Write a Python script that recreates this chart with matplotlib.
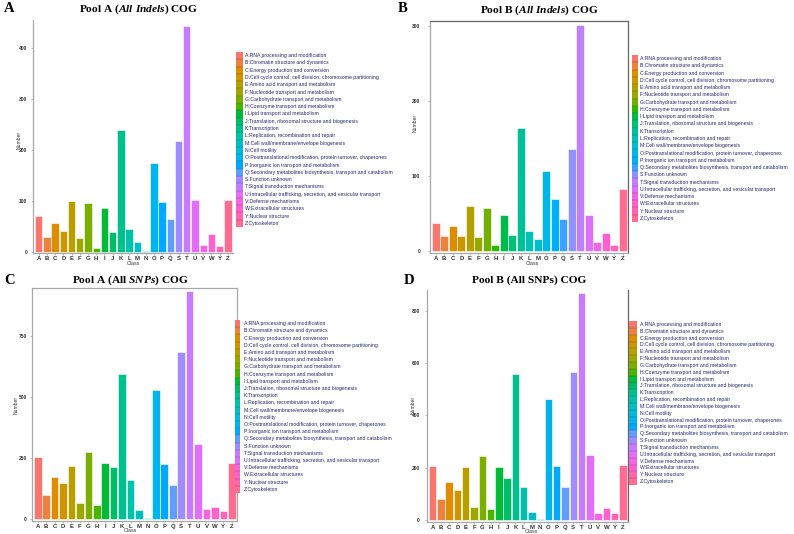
import numpy as np
import matplotlib
matplotlib.use("Agg")
import matplotlib.pyplot as plt
import matplotlib.transforms as mtransforms

# ---------------- data ----------------
classes_full = ["A", "B", "C", "D", "E", "F", "G", "H", "I", "J", "K", "L", "M",
                "N", "O", "P", "Q", "S", "T", "U", "V", "W", "Y", "Z"]
classes_b = ["A", "B", "C", "D", "E", "F", "G", "H", "I", "J", "K", "L", "M",
             "O", "P", "Q", "S", "T", "U", "V", "W", "Y", "Z"]

desc = {
    "A": "RNA processing and modification",
    "B": "Chromatin structure and dynamics",
    "C": "Energy production and conversion",
    "D": "Cell cycle control, cell division, chromosome partitioning",
    "E": "Amino acid transport and metabolism",
    "F": "Nucleotide transport and metabolism",
    "G": "Carbohydrate transport and metabolism",
    "H": "Coenzyme transport and metabolism",
    "I": "Lipid transport and metabolism",
    "J": "Translation, ribosomal structure and biogenesis",
    "K": "Transcription",
    "L": "Replication, recombination and repair",
    "M": "Cell wall/membrane/envelope biogenesis",
    "N": "Cell motility",
    "O": "Posttranslational modification, protein turnover, chaperones",
    "P": "Inorganic ion transport and metabolism",
    "Q": "Secondary metabolites biosynthesis, transport and catabolism",
    "S": "Function unknown",
    "T": "Signal transduction mechanisms",
    "U": "Intracellular trafficking, secretion, and vesicular transport",
    "V": "Defense mechanisms",
    "W": "Extracellular structures",
    "Y": "Nuclear structure",
    "Z": "Cytoskeleton",
}

pool_a_indels = [70, 28, 57, 40, 100, 26, 95, 8, 85, 38, 239, 44, 20,
                 1, 173, 98, 65, 216, 443, 101, 14, 35, 12, 102]
pool_b_indels = [37, 19, 33, 19, 59, 18, 57, 7, 47, 21, 163, 26, 15,
                 106, 69, 42, 136, 301, 47, 11, 24, 7, 82]
pool_a_snps = [254, 100, 173, 149, 219, 68, 275, 59, 231, 214, 595, 160, 38,
               7, 530, 227, 141, 684, 936, 310, 44, 52, 34, 231]
pool_b_snps = [206, 82, 147, 116, 201, 51, 243, 44, 201, 162, 558, 128, 32,
               3, 463, 206, 127, 567, 868, 248, 28, 47, 28, 211]

ticks_a = [0, 100, 200, 300, 400]
ticks_b = [0, 100, 200, 300]
ticks_c = [0, 250, 500, 750]
ticks_d = [0, 200, 400, 600, 800]

# ---------------- helpers ----------------
def hue_pal(n, c=100.0, l=65.0):
    hues = np.linspace(15, 375, n + 1)[:-1]
    Xn, Yn, Zn = 95.047, 100.0, 108.883
    un = 4 * Xn / (Xn + 15 * Yn + 3 * Zn)
    vn = 9 * Yn / (Xn + 15 * Yn + 3 * Zn)
    out = []
    for h in hues:
        U = c * np.cos(np.radians(h))
        V = c * np.sin(np.radians(h))
        Y = Yn * ((l + 16) / 116) ** 3
        up = U / (13 * l) + un
        vp = V / (13 * l) + vn
        X = Y * 9 * up / (4 * vp)
        Z = Y * (12 - 3 * up - 20 * vp) / (4 * vp)
        X, Y2, Z = X / 100, Y / 100, Z / 100
        r = 3.2404542 * X - 1.5371385 * Y2 - 0.4985314 * Z
        g = -0.9692660 * X + 1.8760108 * Y2 + 0.0415560 * Z
        b = 0.0556434 * X - 0.2040259 * Y2 + 1.0572252 * Z
        rgb = []
        for v in (r, g, b):
            v = 12.92 * v if v <= 0.0031308 else 1.055 * v ** (1 / 2.4) - 0.055
            rgb.append(min(max(v, 0), 1))
        out.append(tuple(rgb))
    return out


W, H = 794, 534
plt.rcParams["font.family"] = ["Liberation Sans", "DejaVu Sans"]
plt.rcParams["mathtext.fontset"] = "custom"
plt.rcParams["mathtext.rm"] = "Liberation Serif:bold"
plt.rcParams["mathtext.it"] = "Liberation Serif:bold:italic"
plt.rcParams["mathtext.bf"] = "Liberation Serif:bold"

fig = plt.figure(figsize=(W / 100, H / 100), dpi=100)


def add_px(l, t, r, b):
    return fig.add_axes([l / W, 1 - b / H, (r - l) / W, (b - t) / H])


def panel(box, cats, vals, ticks, ylim, spines, title, letter, letter_xy,
          title_xy, ylab_xy, xlab_xy, leg_box, leg_text_x, tick_pad):
    n = len(cats)
    cols = hue_pal(n)
    ax = add_px(*box)
    ax.bar(range(n), vals, width=0.9, color=cols, edgecolor="white", linewidth=0.4)
    ax.set_xlim(-0.68, n - 0.38)
    ax.set_ylim(*ylim)
    ax.set_xticks(range(n))
    ax.set_xticklabels(cats, fontsize=4.3, fontweight="bold", color="#333333")
    ax.set_yticks(ticks)
    ax.set_yticklabels([str(t) for t in ticks], fontsize=3.5, fontweight="bold",
                       color="#333333")
    ax.tick_params(axis="x", length=1.2, width=0.4, pad=0.8, color="#888888")
    ax.tick_params(axis="y", length=1.2, width=0.4, pad=tick_pad, color="#888888")
    for s in ["left", "right", "top", "bottom"]:
        if s in spines:
            ax.spines[s].set_color(spines[s])
            ax.spines[s].set_linewidth(0.9)
        else:
            ax.spines[s].set_visible(False)
    # texts
    fig.text(letter_xy[0] / W, 1 - letter_xy[1] / H, letter, family="Liberation Serif",
             fontweight="bold", fontsize=10.5, ha="left", va="center")
    fig.text(title_xy[0] / W, 1 - title_xy[1] / H, title, fontsize=8.2,
             family="Liberation Serif", fontweight="bold",
             ha="center", va="center")
    fig.text(ylab_xy[0] / W, 1 - ylab_xy[1] / H, "Number", fontsize=3.6,
             rotation=90, ha="center", va="center", color="#333333")
    fig.text(xlab_xy[0] / W, 1 - xlab_xy[1] / H, "Class", fontsize=3.8,
             ha="center", va="center", color="#333333")
    # legend strip
    lg = add_px(*leg_box)
    lg.barh(range(n), [1] * n, height=1.0, left=0, color=cols, linewidth=0)
    for i in range(1, n):
        lg.axhline(i - 0.5, color="#3a3a3a", lw=0.35, alpha=0.55)
    lg.set_xlim(0, 1)
    lg.set_ylim(n - 0.5, -0.5)
    lg.axis("off")
    lw = leg_box[2] - leg_box[0]
    tr = mtransforms.blended_transform_factory(lg.transAxes, lg.transData)
    for i, c in enumerate(cats):
        lg.text((leg_text_x - leg_box[0]) / lw, i, c + ":" + desc[c],
                transform=tr, fontsize=3.7, color="#26266e", ha="left",
                va="center", clip_on=False)
    return ax


gray = "#a8a8a8"
dark = "#666666"

panel((33, 20, 233, 253), classes_full, pool_a_indels, ticks_a, (-2.5, 454),
      {"left": gray, "bottom": gray},
      r"Pool A ($\mathit{All\ Indels}$) COG", "A", (4, 9), (139, 9),
      (19, 140), (133, 263.5), (236, 52, 243, 227), 245, 3)

panel((430, 21, 628, 253), classes_b, pool_b_indels, ticks_b, (-3, 306),
      {"left": gray, "bottom": gray, "top": dark, "right": dark},
      r"Pool B ($\mathit{All\ Indels}$) COG", "B", (398, 9), (539, 10),
      (415, 123), (532, 263.5), (632, 55, 638, 222), 640, 6)

panel((32, 288, 237, 521), classes_full, pool_a_snps, ticks_c, (-7, 948),
      {"left": gray, "bottom": gray, "top": gray, "right": gray},
      r"Pool A (All $\mathit{SNPs}$) COG", "C", (4, 280), (130, 280),
      (16, 405), (130, 531), (235, 320, 240, 493), 244, 2.5)

panel((427, 290, 628, 522), classes_full, pool_b_snps, ticks_d, (-7.6, 880),
      {"left": gray, "bottom": gray, "right": dark},
      r"Pool B (All SNPs) COG", "D", (404, 280), (529, 280),
      (413, 405), (531, 531.5), (629, 321, 637, 485), 640, 4)

fig.savefig("out.png", dpi=100)
